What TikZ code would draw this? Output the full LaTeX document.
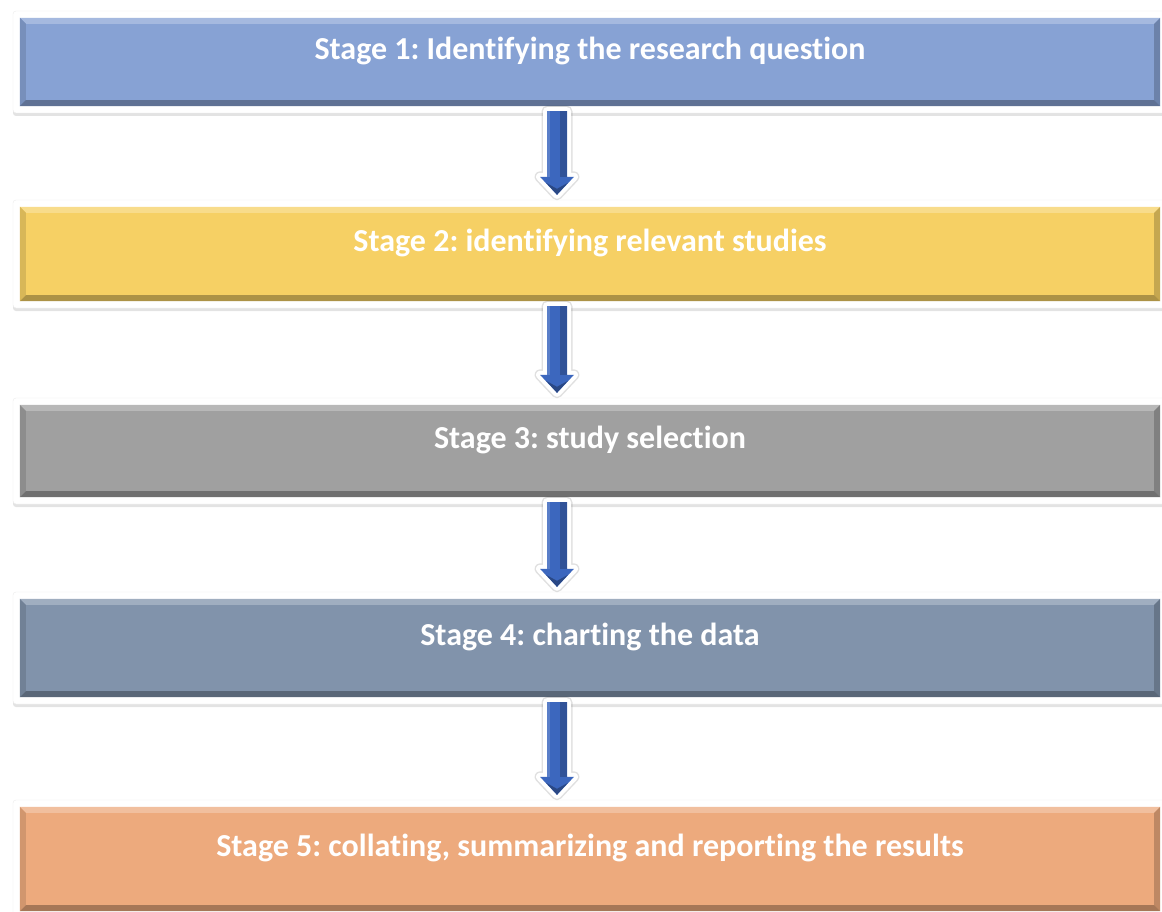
\documentclass[tikz,border=0pt]{standalone}
\usepackage{fontspec}
\setmainfont[Ligatures=NoCommon]{Carlito}
\frenchspacing
\usepackage{tikz}
\usetikzlibrary{positioning,calc,shadows}

\definecolor{stageblue}{HTML}{87A2D4}
\definecolor{stageyellow}{HTML}{F6D064}
\definecolor{stagegrey}{HTML}{A0A0A0}
\definecolor{stageslate}{HTML}{8193AB}
\definecolor{stageorange}{HTML}{EDAA7D}
\definecolor{arrowblue}{HTML}{3C67BE}

\tikzset{
  frame/.style={fill=white,draw=black!8,rounded corners=3pt,minimum width=1154pt,inner sep=0pt,
    drop shadow={shadow xshift=0pt,shadow yshift=-3pt,opacity=0.22}},
  stagebox/.style={fill=#1,minimum width=1140pt,inner sep=0pt},
  stagetext/.style={text=white,font=\fontsize{32}{36}\selectfont\bfseries},
  arrowhalo/.style={draw=black,opacity=0.12,line width=11pt,line join=round},
  arrowrim/.style={draw=white,fill=white,line width=8pt,line join=round,
    drop shadow={shadow xshift=0pt,shadow yshift=-2pt,opacity=0.2}}
}

% bevelled edges of a stage box
\newcommand{\bevelbox}[2]{%
  \fill[#2!75!white] (#1.north west) -- (#1.north east) -- ($(#1.north east)+(-6pt,-6pt)$) -- ($(#1.north west)+(6pt,-6pt)$) -- cycle;
  \fill[#2!88!black] (#1.north west) -- (#1.south west) -- ($(#1.south west)+(6pt,6pt)$) -- ($(#1.north west)+(6pt,-6pt)$) -- cycle;
  \fill[#2!80!black] (#1.north east) -- (#1.south east) -- ($(#1.south east)+(-6pt,6pt)$) -- ($(#1.north east)+(-6pt,-6pt)$) -- cycle;
  \fill[#2!70!black] (#1.south west) -- (#1.south east) -- ($(#1.south east)+(-6pt,6pt)$) -- ($(#1.south west)+(6pt,6pt)$) -- cycle;
}

% block arrow from one frame down to the next
\newcommand{\stagearrow}[2]{%
  \coordinate (at) at ($(#1.south)+(-33pt,2pt)$);
  \coordinate (ab) at ($(#2.north)+(-33pt,5pt)$);
  \def\arrowpath{($(at)+(-10pt,0pt)$) -- ($(ab)+(-10pt,18pt)$) -- ($(ab)+(-17pt,18pt)$) -- (ab)
    -- ($(ab)+(17pt,18pt)$) -- ($(ab)+(10pt,18pt)$) -- ($(at)+(10pt,0pt)$) -- cycle}
  \path[arrowhalo] \arrowpath;
  \path[arrowrim] \arrowpath;
  \fill[arrowblue] \arrowpath;
  % shading of the arrow facets
  \fill[arrowblue!80!black] ($(at)+(3pt,0pt)$) -- ($(ab)+(3pt,18pt)$) -- ($(ab)+(10pt,18pt)$) -- ($(at)+(10pt,0pt)$) -- cycle;
  \fill[arrowblue!85!white] ($(at)+(-10pt,0pt)$) -- ($(ab)+(-10pt,18pt)$) -- ($(ab)+(-7pt,18pt)$) -- ($(at)+(-7pt,0pt)$) -- cycle;
  \fill[arrowblue!70!black] ($(ab)+(-11pt,12pt)$) -- (ab) -- ($(ab)+(11pt,12pt)$) -- ($(ab)+(0pt,6pt)$) -- cycle;
}

\begin{document}
\begin{tikzpicture}[x=1pt,y=-1pt]
  \useasboundingbox (0,0) rectangle (1162,912);
  \clip (0,0) rectangle (1162,912);
  % stages: frame, coloured box, bevel, caption
  \foreach \n/\y/\h/\col/\txt in {
      1/62/88/stageblue/{Stage 1: Identifying the research question},
      2/254/94/stageyellow/{Stage 2: identifying relevant studies},
      3/451/92/stagegrey/{Stage 3: study selection},
      4/648/98/stageslate/{Stage 4: charting the data},
      5/859/104/stageorange/{Stage 5: collating, summarizing and reporting the results}}{
    \node[frame,minimum height=\h pt+14pt] (f\n) at (590,\y) {};
    \node[stagebox=\col,minimum height=\h pt] (s\n) at (590,\y) {};
    \bevelbox{s\n}{\col}
    \node[stagetext] (t\n) at ($(s\n.center)+(0pt,11pt)$) {\txt};
  }
  % arrows between stages
  \foreach \a/\b in {1/2,2/3,3/4,4/5}
    \stagearrow{f\a}{f\b};
\end{tikzpicture}
\end{document}
